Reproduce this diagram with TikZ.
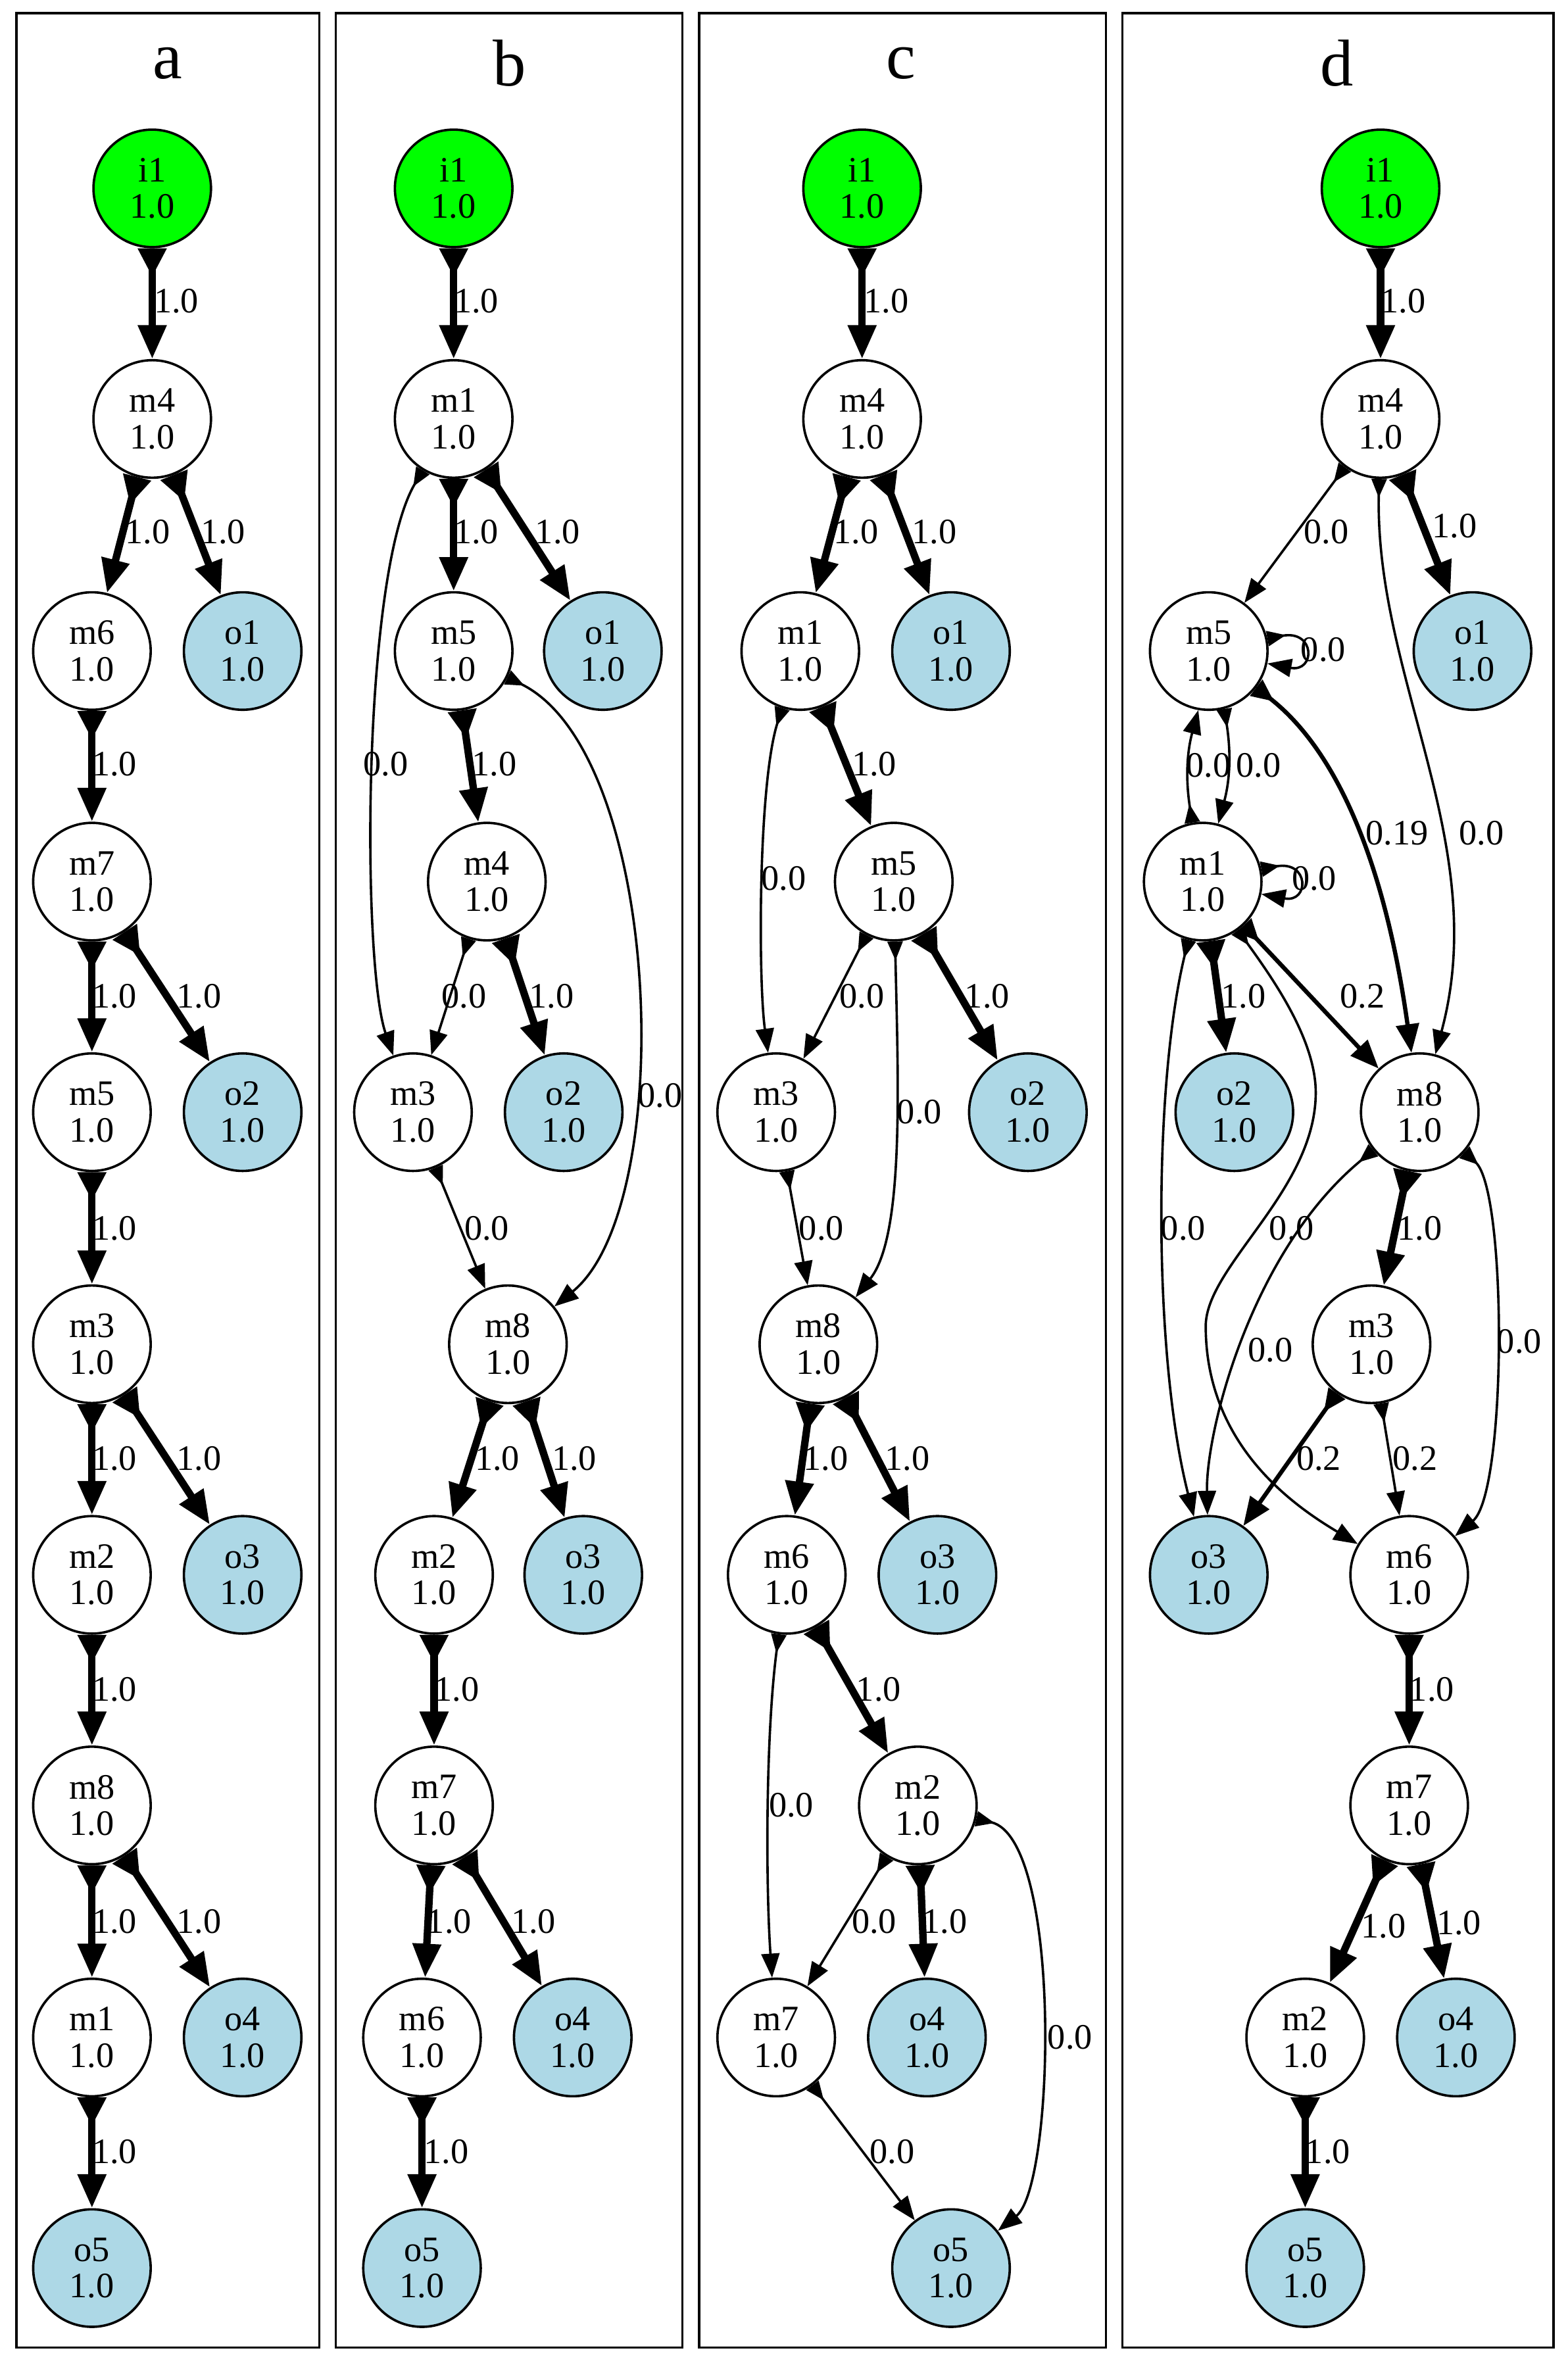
\documentclass[tikz,border=0pt]{standalone}
\usepackage{fontspec}
\setmainfont{Liberation Serif}
\usetikzlibrary{arrows.meta}
\begin{document}
\begin{tikzpicture}[x=0.02cm,y=-0.02cm,
 nd/.style={circle,draw,line width=0.9pt,minimum size=1.56cm,inner sep=0pt,align=center,font=\fontsize{13.5}{13.8}\selectfont},
 mn/.style={nd,fill=white},
 inn/.style={nd,fill=green},
 on/.style={nd,fill={rgb,255:red,173;green,216;blue,230}},
 lab/.style={font=\fontsize{13.5}{14}\selectfont,inner sep=0pt},
 ttl/.style={font=\fontsize{25}{27}\selectfont},
 pan/.style={draw,line width=0.9pt},
 tk/.style={line width=2.8pt,{Triangle[reversed,length=0.38cm,width=0.36cm]}-{Triangle[length=0.45cm,width=0.36cm]}},
 md/.style={line width=1.6pt,{Triangle[reversed,length=0.3cm,width=0.26cm]}-{Triangle[length=0.38cm,width=0.3cm]}},
 tn/.style={line width=0.9pt,{Triangle[reversed,length=0.25cm,width=0.2cm]}-{Triangle[length=0.32cm,width=0.24cm]}}]
\useasboundingbox (0,0) rectangle (1040,1568);
\fill[white] (0,0) rectangle (1040,1568);
\node[pan,minimum width=201*0.02cm,minimum height=1549*0.02cm,anchor=north west] (pa) at (10,8) {};
\node[pan,minimum width=230*0.02cm,minimum height=1549*0.02cm,anchor=north west] (pb) at (222,8) {};
\node[pan,minimum width=270*0.02cm,minimum height=1549*0.02cm,anchor=north west] (pc) at (463,8) {};
\node[pan,minimum width=286*0.02cm,minimum height=1549*0.02cm,anchor=north west] (pd) at (744,8) {};
\node[ttl] (ta) at (111,42) {a};
\node[ttl] (tb) at (338,42) {b};
\node[ttl] (tc) at (598,42) {c};
\node[ttl] (td) at (887,42) {d};
% ---------- panel a
\node[inn] (a-i1) at (101,125) {i1\\1.0};
\node[mn] (a-m4) at (101,278) {m4\\1.0};
\node[mn] (a-m6) at (61,432) {m6\\1.0};
\node[on] (a-o1) at (161,432) {o1\\1.0};
\node[mn] (a-m7) at (61,585) {m7\\1.0};
\node[mn] (a-m5) at (61,738) {m5\\1.0};
\node[on] (a-o2) at (161,738) {o2\\1.0};
\node[mn] (a-m3) at (61,892) {m3\\1.0};
\node[mn] (a-m2) at (61,1045) {m2\\1.0};
\node[on] (a-o3) at (161,1045) {o3\\1.0};
\node[mn] (a-m8) at (61,1198) {m8\\1.0};
\node[mn] (a-m1) at (61,1352) {m1\\1.0};
\node[on] (a-o4) at (161,1352) {o4\\1.0};
\node[on] (a-o5) at (61,1505) {o5\\1.0};
\draw[tk] (a-i1)--(a-m4); \node[lab] at (117,200) {1.0};
\draw[tk] (a-m4)--(a-m6); \node[lab] at (98,353) {1.0};
\draw[tk] (a-m4)--(a-o1); \node[lab] at (148,353) {1.0};
\draw[tk] (a-m6)--(a-m7); \node[lab] at (76,507) {1.0};
\draw[tk] (a-m7)--(a-m5); \node[lab] at (76,661) {1.0};
\draw[tk] (a-m7)--(a-o2); \node[lab] at (132,661) {1.0};
\draw[tk] (a-m5)--(a-m3); \node[lab] at (76,815) {1.0};
\draw[tk] (a-m3)--(a-m2); \node[lab] at (76,968) {1.0};
\draw[tk] (a-m3)--(a-o3); \node[lab] at (132,968) {1.0};
\draw[tk] (a-m2)--(a-m8); \node[lab] at (76,1121) {1.0};
\draw[tk] (a-m8)--(a-m1); \node[lab] at (76,1275) {1.0};
\draw[tk] (a-m8)--(a-o4); \node[lab] at (132,1275) {1.0};
\draw[tk] (a-m1)--(a-o5); \node[lab] at (76,1428) {1.0};
% ---------- panel b
\node[inn] (b-i1) at (301,125) {i1\\1.0};
\node[mn] (b-m1) at (301,278) {m1\\1.0};
\node[mn] (b-m5) at (301,432) {m5\\1.0};
\node[on] (b-o1) at (400,432) {o1\\1.0};
\node[mn] (b-m4) at (323,585) {m4\\1.0};
\node[mn] (b-m3) at (274,738) {m3\\1.0};
\node[on] (b-o2) at (374,738) {o2\\1.0};
\node[mn] (b-m8) at (337,892) {m8\\1.0};
\node[mn] (b-m2) at (288,1045) {m2\\1.0};
\node[on] (b-o3) at (387,1045) {o3\\1.0};
\node[mn] (b-m7) at (288,1198) {m7\\1.0};
\node[mn] (b-m6) at (280,1352) {m6\\1.0};
\node[on] (b-o4) at (380,1352) {o4\\1.0};
\node[on] (b-o5) at (280,1505) {o5\\1.0};
\draw[tk] (b-i1)--(b-m1); \node[lab] at (316,200) {1.0};
\draw[tk] (b-m1)--(b-m5); \node[lab] at (316,353) {1.0};
\draw[tk] (b-m1)--(b-o1); \node[lab] at (370,353) {1.0};
\draw[tn] (b-m1) .. controls (240,380) and (240,640) .. (b-m3); \node[lab] at (256,507) {0.0};
\draw[tk] (b-m5)--(b-m4); \node[lab] at (328,507) {1.0};
\draw[tn] (b-m5) .. controls (440,500) and (450,800) .. (b-m8); \node[lab] at (438,727) {0.0};
\draw[tn] (b-m4)--(b-m3); \node[lab] at (308,661) {0.0};
\draw[tk] (b-m4)--(b-o2); \node[lab] at (366,661) {1.0};
\draw[tn] (b-m3)--(b-m8); \node[lab] at (323,815) {0.0};
\draw[tk] (b-m8)--(b-m2); \node[lab] at (330,968) {1.0};
\draw[tk] (b-m8)--(b-o3); \node[lab] at (381,968) {1.0};
\draw[tk] (b-m2)--(b-m7); \node[lab] at (303,1121) {1.0};
\draw[tk] (b-m7)--(b-m6); \node[lab] at (298,1275) {1.0};
\draw[tk] (b-m7)--(b-o4); \node[lab] at (354,1275) {1.0};
\draw[tk] (b-m6)--(b-o5); \node[lab] at (296,1428) {1.0};
% ---------- panel c
\node[inn] (c-i1) at (572,125) {i1\\1.0};
\node[mn] (c-m4) at (572,278) {m4\\1.0};
\node[mn] (c-m1) at (531,432) {m1\\1.0};
\node[on] (c-o1) at (631,432) {o1\\1.0};
\node[mn] (c-m5) at (593,585) {m5\\1.0};
\node[mn] (c-m3) at (515,738) {m3\\1.0};
\node[on] (c-o2) at (682,738) {o2\\1.0};
\node[mn] (c-m8) at (543,892) {m8\\1.0};
\node[mn] (c-m6) at (522,1045) {m6\\1.0};
\node[on] (c-o3) at (622,1045) {o3\\1.0};
\node[mn] (c-m2) at (609,1198) {m2\\1.0};
\node[mn] (c-m7) at (515,1352) {m7\\1.0};
\node[on] (c-o4) at (615,1352) {o4\\1.0};
\node[on] (c-o5) at (631,1505) {o5\\1.0};
\draw[tk] (c-i1)--(c-m4); \node[lab] at (588,200) {1.0};
\draw[tk] (c-m4)--(c-m1); \node[lab] at (568,353) {1.0};
\draw[tk] (c-m4)--(c-o1); \node[lab] at (620,353) {1.0};
\draw[tk] (c-m1)--(c-m5); \node[lab] at (580,507) {1.0};
\draw[tn] (c-m1) .. controls (503,520) and (503,650) .. (c-m3); \node[lab] at (520,583) {0.0};
\draw[tn] (c-m5)--(c-m3); \node[lab] at (572,661) {0.0};
\draw[tk] (c-m5)--(c-o2); \node[lab] at (655,661) {1.0};
\draw[tn] (c-m5) .. controls (596,720) and (600,820) .. (c-m8); \node[lab] at (610,738) {0.0};
\draw[tn] (c-m3)--(c-m8); \node[lab] at (545,815) {0.0};
\draw[tk] (c-m8)--(c-m6); \node[lab] at (548,968) {1.0};
\draw[tk] (c-m8)--(c-o3); \node[lab] at (602,968) {1.0};
\draw[tk] (c-m6)--(c-m2); \node[lab] at (583,1121) {1.0};
\draw[tn] (c-m6) .. controls (508,1150) and (508,1250) .. (c-m7); \node[lab] at (525,1198) {0.0};
\draw[tn] (c-m2)--(c-m7); \node[lab] at (580,1275) {0.0};
\draw[tk] (c-m2)--(c-o4); \node[lab] at (627,1275) {1.0};
\draw[tn] (c-m2) .. controls (705,1220) and (700,1450) .. (c-o5); \node[lab] at (710,1352) {0.0};
\draw[tn] (c-m7)--(c-o5); \node[lab] at (592,1428) {0.0};
% ---------- panel d
\node[inn] (d-i1) at (916,125) {i1\\1.0};
\node[mn] (d-m4) at (916,278) {m4\\1.0};
\node[mn] (d-m5) at (802,432) {m5\\1.0};
\node[on] (d-o1) at (977,432) {o1\\1.0};
\node[mn] (d-m1) at (798,585) {m1\\1.0};
\node[on] (d-o2) at (819,738) {o2\\1.0};
\node[mn] (d-m8) at (942,738) {m8\\1.0};
\node[mn] (d-m3) at (910,892) {m3\\1.0};
\node[on] (d-o3) at (802,1045) {o3\\1.0};
\node[mn] (d-m6) at (935,1045) {m6\\1.0};
\node[mn] (d-m7) at (935,1198) {m7\\1.0};
\node[mn] (d-m2) at (866,1352) {m2\\1.0};
\node[on] (d-o4) at (966,1352) {o4\\1.0};
\node[on] (d-o5) at (866,1505) {o5\\1.0};
\draw[tk] (d-i1)--(d-m4); \node[lab] at (931,200) {1.0};
\draw[tn] (d-m4)--(d-m5); \node[lab] at (880,353) {0.0};
\draw[tk] (d-m4)--(d-o1); \node[lab] at (965,349) {1.0};
\draw[tn] (d-m4) .. controls (912,450) and (990,560) .. (d-m8); \node[lab] at (983,553) {0.0};
\draw[tn] (d-m5.12) .. controls +(32,-6) and +(32,6) .. (d-m5.-12); \node[lab] at (878,431) {0.0};
\draw[tn] (d-m1.100) to[bend left=12] (d-m5.-100); \node[lab] at (802,508) {0.0};
\draw[tn] (d-m5.-75) to[bend left=12] (d-m1.75); \node[lab] at (835,508) {0.0};
\draw[tn] (d-m1.12) .. controls +(32,-6) and +(32,6) .. (d-m1.-12); \node[lab] at (872,583) {0.0};
\draw[md] (d-m5) .. controls (890,500) and (920,580) .. (d-m8); \node[lab] at (927,553) {0.19};
\draw[tk] (d-m1)--(d-o2); \node[lab] at (825,661) {1.0};
\draw[md] (d-m1)--(d-m8); \node[lab] at (904,661) {0.2};
\draw[tn] (d-m1) .. controls (765,720) and (765,900) .. (d-o3); \node[lab] at (785,815) {0.0};
\draw[tn] (d-m1) .. controls (845,650) and (873,690) .. (873,725) .. controls (873,790) and (800,840) .. (800,880) .. controls (800,960) and (860,1000) .. (d-m6); \node[lab] at (857,815) {0.0};
\draw[tk] (d-m8)--(d-m3); \node[lab] at (942,815) {1.0};
\draw[tn] (d-m8) .. controls (830,830) and (800,950) .. (d-o3); \node[lab] at (843,896) {0.0};
\draw[tn] (d-m8) .. controls (1000,790) and (1000,990) .. (d-m6); \node[lab] at (1008,890) {0.0};
\draw[md] (d-m3)--(d-o3); \node[lab] at (875,968) {0.2};
\draw[tn] (d-m3)--(d-m6); \node[lab] at (939,968) {0.2};
\draw[tk] (d-m6)--(d-m7); \node[lab] at (950,1121) {1.0};
\draw[tk] (d-m7)--(d-m2); \node[lab] at (918,1278) {1.0};
\draw[tk] (d-m7)--(d-o4); \node[lab] at (968,1276) {1.0};
\draw[tk] (d-m2)--(d-o5); \node[lab] at (881,1428) {1.0};
\end{tikzpicture}
\end{document}
